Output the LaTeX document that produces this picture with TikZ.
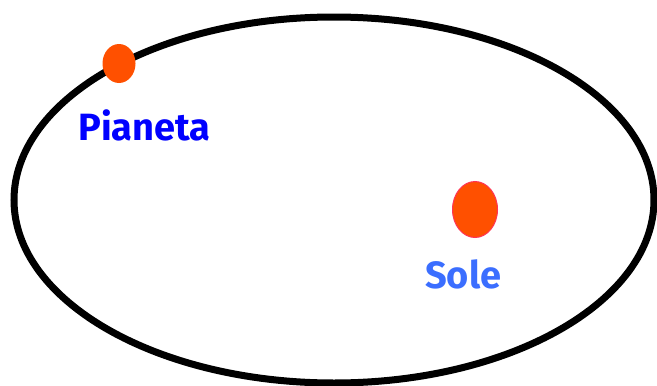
\documentclass[tikz,border=0pt]{standalone}
\usepackage{fontspec}
\setmainfont{Fira Sans}
\usetikzlibrary{shapes.geometric, positioning}

\definecolor{bodyorange}{HTML}{FF5000}
\definecolor{sunrim}{HTML}{FF3355}
\definecolor{planetblue}{HTML}{0000FF}
\definecolor{sunblue}{HTML}{3B6EFF}

\tikzset{
  body/.style={ellipse, fill=bodyorange, inner sep=0pt},
  tag/.style={font=\fontsize{38}{38}\selectfont\bfseries, inner sep=0pt, anchor=base west}
}

\begin{document}
\begin{tikzpicture}[x=1pt, y=-1pt]
\useasboundingbox (0,0) rectangle (657,386);
\clip (0,0) rectangle (657,386);
\draw[line width=7pt] (334,200) ellipse [x radius=320, y radius=183];
\node[body, minimum width=33pt, minimum height=39pt] (planet) at (119,63.5) {};
\node[body, draw=sunrim, line width=1pt, minimum width=45pt, minimum height=56pt] (sun) at (475,209.5) {};
\node[tag, text=planetblue] (planetlbl) at (78,140) {Pianeta};
\node[tag, text=sunblue] (sunlbl) at (425,288) {Sole};
\end{tikzpicture}
\end{document}
